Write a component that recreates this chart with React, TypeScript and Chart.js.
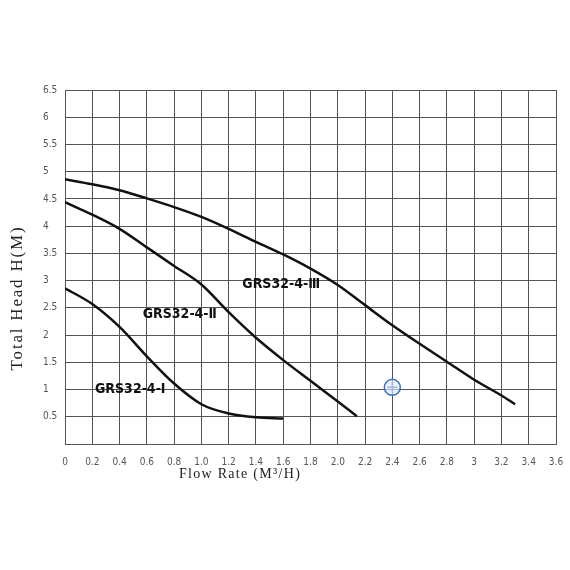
import { useEffect, useRef } from "react";
import { Chart, registerables } from "chart.js";

Chart.register(...registerables);

// pump curves (flow m3/h, head m)
const flowIII = [0, 0.2, 0.4, 0.6, 0.8, 1.0, 1.2, 1.4, 1.6, 1.8, 2.0, 2.2, 2.4, 2.6, 2.8, 3.0, 3.2, 3.3];
const headIII = [4.86, 4.77, 4.66, 4.51, 4.35, 4.17, 3.95, 3.71, 3.48, 3.22, 2.92, 2.55, 2.18, 1.84, 1.51, 1.18, 0.89, 0.73];

const flowII = [0, 0.2, 0.4, 0.6, 0.8, 1.0, 1.2, 1.4, 1.6, 1.8, 2.0, 2.14];
const headII = [4.44, 4.21, 3.95, 3.61, 3.27, 2.93, 2.42, 1.95, 1.54, 1.16, 0.78, 0.51];

const flowI = [0, 0.2, 0.4, 0.6, 0.8, 1.0, 1.2, 1.4, 1.6];
const headI = [2.86, 2.57, 2.15, 1.61, 1.11, 0.73, 0.56, 0.49, 0.47];

const curveNames = ["GRS32-4-Ⅲ", "GRS32-4-Ⅱ", "GRS32-4-Ⅰ"];
const labelFlow = [1.3, 0.57, 0.22];
const labelHead = [2.93, 2.38, 1.0];

const markerFlow = [2.4];
const markerHead = [1.04];

const xTickLabels = ["0", "0.2", "0.4", "0.6", "0.8", "1.0", "1.2", "1.4", "1.6", "1.8", "2.0", "2.2", "2.4", "2.6", "2.8", "3", "3.2", "3.4", "3.6"];
const yTickLabels = ["", "0.5", "1", "1.5", "2", "2.5", "3", "3.5", "4", "4.5", "5", "5.5", "6", "6.5"];

const xTitle = "Flow Rate (M³/H)";
const yTitle = "Total Head H(M)";

const titleFont = "'Liberation Serif', 'DejaVu Serif', serif";
const labelFont = "'DejaVu Sans Condensed', 'Liberation Sans Narrow', sans-serif";

const toPoints = (xs: number[], ys: number[]) => xs.map((x, i) => ({ x, y: ys[i] }));

const curve = (data: { x: number; y: number }[]) => ({
  data,
  borderColor: "#111",
  borderWidth: 2.5,
  pointRadius: 0,
  cubicInterpolationMode: "monotone" as const,
  fill: false,
});

const textPlugin = {
  id: "curveText",
  afterDatasetsDraw(chart: any) {
    const { ctx, scales } = chart;
    ctx.save();
    ctx.fillStyle = "#111";
    ctx.font = `bold 14px ${labelFont}`;
    ctx.textAlign = "left";
    ctx.textBaseline = "middle";
    curveNames.forEach((name, i) => {
      ctx.fillText(name, scales.x.getPixelForValue(labelFlow[i]), scales.y.getPixelForValue(labelHead[i]));
    });

    ctx.fillStyle = "#222";
    ctx.font = `14px ${titleFont}`;
    ctx.textAlign = "center";
    ctx.letterSpacing = "1.3px";
    ctx.fillText(xTitle, 240, 474);

    ctx.translate(18, 298);
    ctx.rotate(-Math.PI / 2);
    ctx.font = `17px ${titleFont}`;
    ctx.letterSpacing = "1.8px";
    ctx.fillText(yTitle, 0, 0);
    ctx.restore();
  },
};

const App = () => {
  const canvasRef = useRef<HTMLCanvasElement>(null);

  useEffect(() => {
    if (!canvasRef.current) return;
    const tickFont = { family: "'Liberation Sans Narrow', 'DejaVu Sans Condensed', sans-serif", size: 10 };
    const gridColor = "#555";

    const chart = new Chart(canvasRef.current, {
      type: "line",
      data: {
        datasets: [
          curve(toPoints(flowIII, headIII)),
          curve(toPoints(flowII, headII)),
          curve(toPoints(flowI, headI)),
          {
            data: toPoints(markerFlow, markerHead),
            showLine: false,
            pointStyle: "circle",
            pointRadius: 8,
            pointBorderWidth: 1.5,
            pointBorderColor: "#3f6fb8",
            pointBackgroundColor: "rgba(220,232,250,0.6)",
          },
          {
            data: toPoints(markerFlow, markerHead),
            showLine: false,
            pointStyle: "cross",
            pointRadius: 5,
            pointBorderWidth: 1.5,
            pointBorderColor: "#3f6fb8",
          },
        ] as any,
      },
      options: {
        animation: false,
        responsive: true,
        maintainAspectRatio: false,
        layout: { padding: { left: 43, top: 90, right: 14, bottom: 0 } },
        plugins: { legend: { display: false }, tooltip: { enabled: false } },
        scales: {
          x: {
            type: "linear",
            min: 0,
            max: 3.6,
            afterFit: (s: any) => {
              s.height = 126;
              s.paddingLeft = 0;
              s.paddingRight = 0;
            },
            ticks: {
              stepSize: 0.2,
              padding: 12,
              font: tickFont,
              color: "#555",
              maxRotation: 0,
              autoSkip: false,
              callback: (_v: any, i: number) => xTickLabels[i],
            },
            grid: { color: gridColor, lineWidth: 1, drawTicks: false },
            border: { color: gridColor, width: 1 },
          },
          y: {
            min: 0,
            max: 6.5,
            afterFit: (s: any) => {
              s.width = 22;
              s.paddingTop = 0;
              s.paddingBottom = 0;
            },
            ticks: {
              stepSize: 0.5,
              crossAlign: "far",
              font: tickFont,
              color: "#555",
              autoSkip: false,
              callback: (_v: any, i: number) => yTickLabels[i],
            },
            grid: { color: gridColor, lineWidth: 1, drawTicks: false },
            border: { color: gridColor, width: 1 },
          },
        },
      },
      plugins: [textPlugin],
    });

    // canvas text does not wait for fonts, so redraw once they are in
    Promise.all([
      document.fonts.load(`17px ${titleFont}`),
      document.fonts.load(`bold 14px ${labelFont}`),
      document.fonts.load("10px 'Liberation Sans Narrow'"),
    ]).then(() => chart.update("none"));

    return () => chart.destroy();
  }, []);

  return (
    <div style={{ position: "absolute", left: 0, top: 0, width: 570, height: 570, background: "#fff" }}>
      <canvas ref={canvasRef}></canvas>
    </div>
  );
};

export default App;
